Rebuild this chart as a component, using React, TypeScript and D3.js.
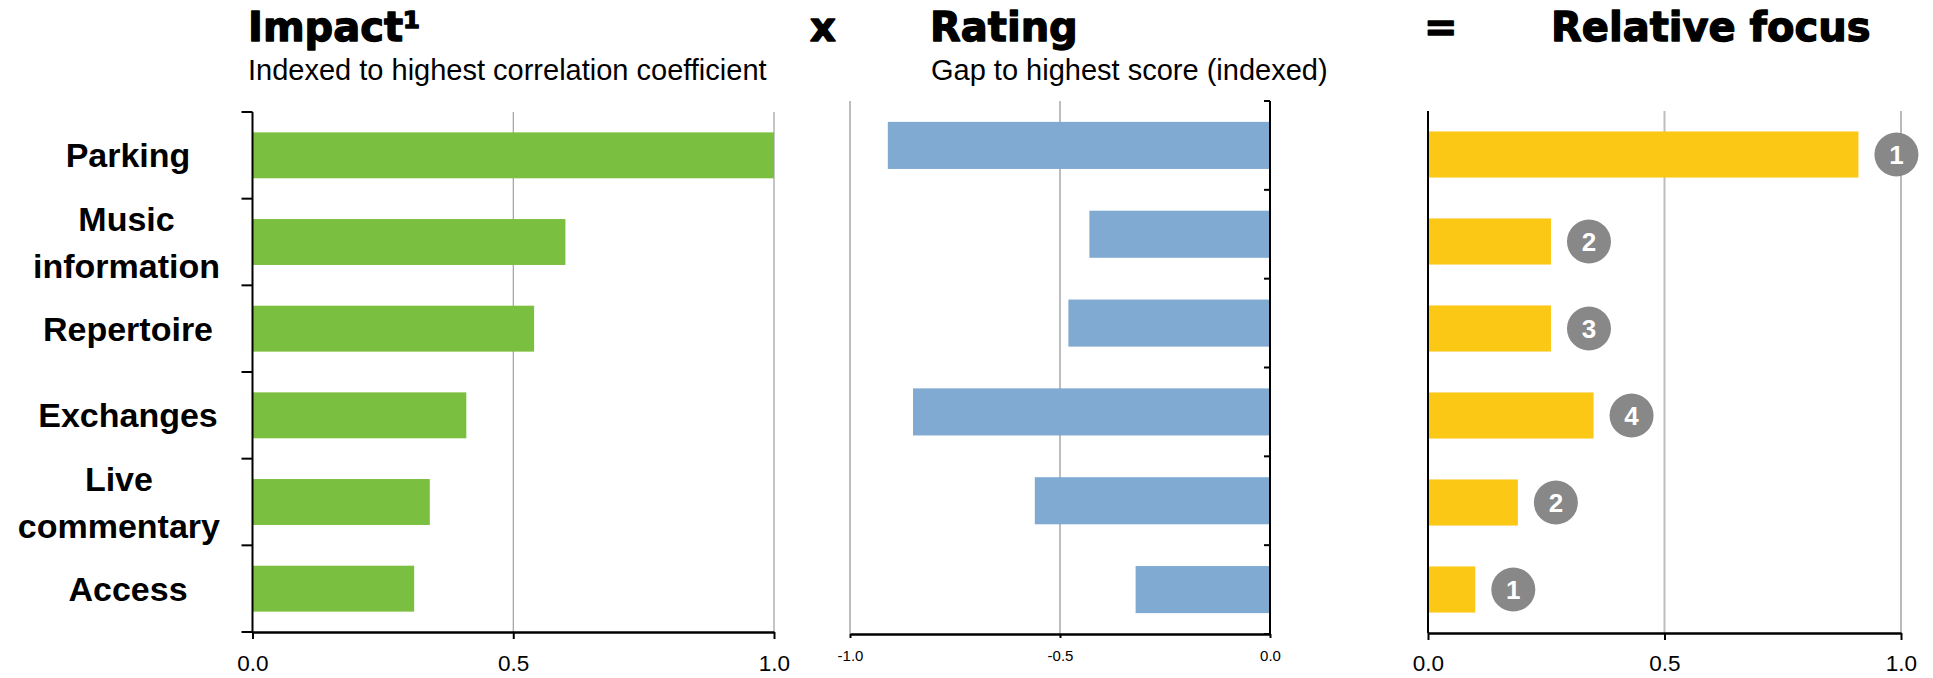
import React, { useEffect, useRef } from "react";
import * as d3 from "d3";

// Driver categories (line breaks mark wrapped labels)
const categories = ["Parking", "Music\ninformation", "Repertoire", "Exchanges", "Live\ncommentary", "Access"];
// Impact: indexed correlation coefficient
const impactValues = [1.0, 0.6, 0.54, 0.41, 0.34, 0.31];
// Rating: gap to highest score (indexed)
const ratingValues = [-0.91, -0.43, -0.48, -0.85, -0.56, -0.32];
// Relative focus = impact x rating gap
const focusValues = [0.91, 0.26, 0.26, 0.35, 0.19, 0.1];
const focusRanks = [1, 2, 3, 4, 2, 1];

const impactTicks = [0, 0.5, 1.0];
const ratingTicks = [-1.0, -0.5, 0.0];
const focusTicks = [0, 0.5, 1.0];

const W = 1933;
const H = 678;
const SANS = "'Liberation Sans', Arial, Helvetica, sans-serif";
const HEAVY = "'DejaVu Sans', 'Liberation Sans', sans-serif";

type Grid = { value: number; color: string; width: number };
type PanelOpts = {
  values: number[];
  domain: [number, number];
  xRange: [number, number];
  yRange: [number, number];
  color: string;
  ticks: number[];
  tickFont: number;
  tickBaseline: number;
  bottomTickLen: number;
  axisValue: number;
  yTickLen: number;
  grids: Grid[];
};

function drawPanel(root: d3.Selection<SVGGElement, unknown, null, undefined>, o: PanelOpts) {
  const x = d3.scaleLinear().domain(o.domain).range(o.xRange);
  const y = d3
    .scaleBand<number>()
    .domain(d3.range(o.values.length))
    .range(o.yRange)
    .paddingInner(0.47)
    .paddingOuter(0.235);
  const g = root.append("g");

  // vertical gridlines
  g.selectAll("line.grid")
    .data(o.grids)
    .join("line")
    .attr("class", "grid")
    .attr("x1", (d) => x(d.value))
    .attr("x2", (d) => x(d.value))
    .attr("y1", o.yRange[0])
    .attr("y2", o.yRange[1])
    .attr("stroke", (d) => d.color)
    .attr("stroke-width", (d) => d.width);

  // bars
  g.selectAll("rect.bar")
    .data(o.values)
    .join("rect")
    .attr("class", "bar")
    .attr("x", (d) => Math.min(x(0), x(d)))
    .attr("width", (d) => Math.abs(x(d) - x(0)))
    .attr("y", (_, i) => y(i)!)
    .attr("height", y.bandwidth())
    .attr("fill", o.color);

  // bottom axis
  const ax = d3
    .axisBottom(x)
    .tickValues(o.ticks)
    .tickSize(o.bottomTickLen)
    .tickSizeOuter(0)
    .tickFormat((d) => (d as number).toFixed(1));
  const ag = g
    .append("g")
    .attr("transform", `translate(0,${o.yRange[1]})`)
    .call(ax);
  ag.select(".domain").attr("stroke", "#000").attr("stroke-width", 2.5);
  ag.selectAll(".tick line").attr("stroke", "#000").attr("stroke-width", 2);
  ag.selectAll(".tick text")
    .attr("y", o.tickBaseline - o.yRange[1])
    .attr("dy", 0)
    .attr("fill", "#000")
    .attr("font-size", o.tickFont)
    .attr("font-family", SANS);

  // category axis line with boundary ticks
  const ax0 = x(o.axisValue);
  g.append("line")
    .attr("x1", ax0)
    .attr("x2", ax0)
    .attr("y1", o.yRange[0])
    .attr("y2", o.yRange[1])
    .attr("stroke", "#000")
    .attr("stroke-width", 2);
  if (o.yTickLen > 0) {
    const step = y.step();
    g.selectAll("line.ytick")
      .data(d3.range(o.values.length + 1))
      .join("line")
      .attr("class", "ytick")
      .attr("x1", ax0 - o.yTickLen)
      .attr("x2", ax0)
      .attr("y1", (i) => o.yRange[0] + i * step)
      .attr("y2", (i) => o.yRange[0] + i * step)
      .attr("stroke", "#000")
      .attr("stroke-width", 2);
  }
  return { x, y };
}

export default function App() {
  const ref = useRef<SVGSVGElement>(null);

  useEffect(() => {
    const svg = d3.select(ref.current!);
    svg.selectAll("*").remove();
    const root = svg.append("g");

    // headings
    const titles = [
      { text: "Impact¹", x: 248 },
      { text: "x", x: 810 },
      { text: "Rating", x: 930 },
      { text: "=", x: 1424 },
      { text: "Relative focus", x: 1551 },
    ];
    root
      .selectAll("text.title")
      .data(titles)
      .join("text")
      .attr("class", "title")
      .attr("x", (d) => d.x)
      .attr("y", 41)
      .attr("font-family", HEAVY)
      .attr("font-weight", 700)
      .attr("font-size", 40)
      .attr("fill", "#000")
      .attr("stroke", "#000")
      .attr("stroke-width", 1.3)
      .attr("stroke-linejoin", "round")
      .text((d) => d.text);

    const subtitles = [
      { text: "Indexed to highest correlation coefficient", x: 248 },
      { text: "Gap to highest score (indexed)", x: 931 },
    ];
    root
      .selectAll("text.sub")
      .data(subtitles)
      .join("text")
      .attr("class", "sub")
      .attr("x", (d) => d.x)
      .attr("y", 80)
      .attr("font-family", SANS)
      .attr("font-size", 29)
      .attr("fill", "#000")
      .text((d) => d.text);

    // Impact panel
    const p1 = drawPanel(root, {
      values: impactValues,
      domain: [0, 1],
      xRange: [252.5, 774],
      yRange: [112, 632],
      color: "#7bbf41",
      ticks: impactTicks,
      tickFont: 22.5,
      tickBaseline: 671,
      bottomTickLen: 7,
      axisValue: 0,
      yTickLen: 11,
      grids: [
        { value: 0.5, color: "#8c8c8c", width: 1 },
        { value: 1.0, color: "#8c8c8c", width: 1 },
      ],
    });

    // Rating panel
    drawPanel(root, {
      values: ratingValues,
      domain: [-1, 0],
      xRange: [850, 1270],
      yRange: [101, 634],
      color: "#80aad2",
      ticks: ratingTicks,
      tickFont: 15,
      tickBaseline: 661,
      bottomTickLen: 4,
      axisValue: 0,
      yTickLen: 6,
      grids: [
        { value: -1.0, color: "#bdbdbd", width: 2 },
        { value: -0.5, color: "#bdbdbd", width: 2 },
      ],
    });

    // Relative focus panel
    const p3 = drawPanel(root, {
      values: focusValues,
      domain: [0, 1],
      xRange: [1428, 1901],
      yRange: [111, 633],
      color: "#fcc816",
      ticks: focusTicks,
      tickFont: 22.5,
      tickBaseline: 671,
      bottomTickLen: 7,
      axisValue: 0,
      yTickLen: 0,
      grids: [
        { value: 0.5, color: "#bdbdbd", width: 2 },
        { value: 1.0, color: "#8c8c8c", width: 1.2 },
      ],
    });

    // rank badges
    const badges = root.append("g");
    const bg = badges
      .selectAll("g")
      .data(focusValues)
      .join("g")
      .attr(
        "transform",
        (d, i) => `translate(${p3.x(d) + 38},${p3.y(i)! + p3.y.bandwidth() / 2})`
      );
    bg.append("circle").attr("r", 22).attr("fill", "#888888");
    bg.append("text")
      .attr("text-anchor", "middle")
      .attr("y", 9)
      .attr("font-family", SANS)
      .attr("font-weight", 700)
      .attr("font-size", 26)
      .attr("fill", "#fff")
      .text((_, i) => String(focusRanks[i]));

    // category labels, centred per block and kept clear of the axis
    const labels = root.append("g");
    categories.forEach((cat, i) => {
      const lines = cat.split("\n");
      const cy = p1.y(i)! + p1.y.bandwidth() / 2;
      const lineGap = 47;
      const block = labels.append("g");
      const texts = lines.map((ln, k) =>
        block
          .append("text")
          .attr("text-anchor", "middle")
          .attr("y", cy + 12 + (k - (lines.length - 1) / 2) * lineGap)
          .attr("font-family", SANS)
          .attr("font-weight", 700)
          .attr("font-size", 34)
          .attr("fill", "#000")
          .text(ln)
      );
      const maxW = d3.max(texts, (t) => (t.node() as SVGTextElement).getComputedTextLength()) || 0;
      const cx = Math.min(128, 220 - maxW / 2);
      texts.forEach((t) => t.attr("x", cx));
    });
  }, []);

  return (
    <svg
      ref={ref}
      width={W}
      height={H}
      style={{ position: "absolute", left: 0, top: 0, background: "#fff" }}
    />
  );
}
